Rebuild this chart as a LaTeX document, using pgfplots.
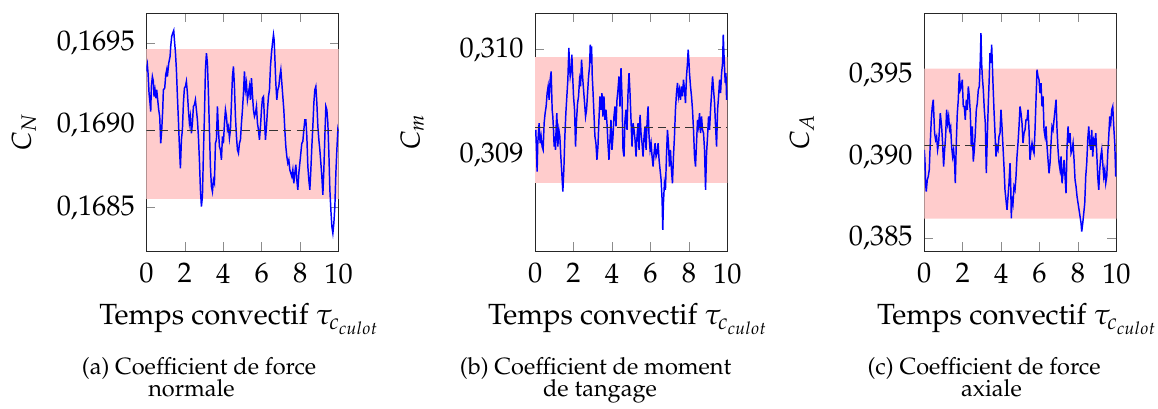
\documentclass[border=0pt]{standalone}
\usepackage[T1]{fontenc}
\usepackage{mathpazo}
\usepackage{pgfplots}
\usepackage{pgfplotstable}
\pgfplotsset{compat=1.18}

\pgfplotstableread{
x y
0.000 0.169327
0.052 0.169367
0.087 0.169316
0.139 0.169195
0.191 0.169134
0.226 0.169083
0.260 0.169235
0.313 0.169296
0.365 0.169266
0.399 0.169174
0.451 0.169215
0.503 0.169164
0.538 0.169215
0.590 0.169154
0.642 0.169093
0.694 0.169053
0.747 0.168890
0.799 0.168972
0.851 0.169093
0.885 0.169215
0.955 0.169225
1.007 0.169306
1.059 0.169337
1.094 0.169296
1.163 0.169377
1.233 0.169418
1.267 0.169479
1.319 0.169540
1.372 0.169560
1.424 0.169576
1.458 0.169519
1.510 0.169448
1.563 0.169337
1.615 0.169174
1.667 0.169032
1.719 0.168870
1.771 0.168738
1.823 0.168911
1.875 0.168972
1.927 0.169134
1.979 0.169225
2.031 0.169235
2.083 0.169266
2.135 0.169195
2.188 0.169093
2.240 0.169012
2.292 0.169053
2.344 0.168951
2.396 0.169012
2.448 0.169114
2.500 0.169124
2.552 0.169154
2.604 0.169093
2.656 0.169032
2.708 0.168931
2.760 0.168789
2.813 0.168607
2.865 0.168505
2.917 0.168566
2.969 0.168830
3.021 0.169053
3.073 0.169337
3.125 0.169438
3.177 0.169377
3.229 0.169195
3.281 0.168972
3.333 0.168749
3.385 0.168627
3.438 0.168596
3.490 0.168667
3.542 0.168647
3.594 0.168890
3.646 0.168911
3.698 0.169114
3.750 0.168972
3.802 0.168870
3.854 0.168850
3.906 0.168789
3.958 0.168931
4.010 0.168890
4.063 0.169012
4.115 0.169093
4.167 0.169053
4.219 0.168972
4.271 0.168992
4.323 0.168921
4.375 0.168972
4.427 0.169134
4.479 0.169296
4.531 0.169357
4.583 0.169235
4.635 0.169053
4.688 0.168931
4.740 0.168850
4.792 0.168830
4.844 0.168890
4.896 0.168911
4.948 0.169012
5.000 0.169093
5.052 0.169195
5.104 0.169327
5.156 0.169215
5.208 0.169256
5.260 0.169154
5.313 0.169195
5.365 0.169235
5.417 0.169154
5.469 0.169286
5.521 0.169185
5.573 0.169093
5.625 0.169053
5.677 0.169073
5.729 0.169114
5.781 0.169012
5.833 0.168972
5.885 0.168911
5.938 0.168992
5.990 0.169093
6.042 0.169164
6.094 0.169174
6.146 0.169032
6.198 0.168911
6.250 0.168992
6.302 0.169093
6.354 0.169174
6.406 0.169215
6.458 0.169357
6.510 0.169438
6.563 0.169499
6.615 0.169550
6.649 0.169519
6.684 0.169418
6.736 0.169256
6.788 0.169154
6.840 0.169215
6.892 0.169235
6.944 0.169296
6.997 0.169337
7.049 0.169256
7.101 0.169174
7.153 0.169093
7.205 0.168972
7.257 0.168870
7.309 0.168809
7.361 0.168769
7.413 0.168789
7.465 0.168728
7.517 0.168708
7.569 0.168688
7.622 0.168728
7.674 0.168647
7.726 0.168708
7.778 0.168759
7.830 0.168667
7.882 0.168607
7.934 0.168708
7.986 0.168769
8.038 0.168830
8.090 0.168890
8.142 0.168901
8.194 0.168972
8.247 0.169032
8.299 0.169032
8.351 0.168931
8.403 0.168749
8.455 0.168667
8.507 0.168607
8.559 0.168728
8.611 0.168870
8.663 0.168992
8.715 0.169134
8.767 0.169215
8.819 0.169235
8.872 0.169134
8.924 0.168992
8.976 0.168911
9.028 0.168850
9.080 0.168769
9.132 0.168688
9.184 0.168576
9.236 0.168728
9.288 0.168931
9.340 0.169114
9.392 0.169093
9.444 0.169012
9.497 0.168830
9.549 0.168607
9.601 0.168485
9.653 0.168383
9.705 0.168343
9.757 0.168404
9.809 0.168505
9.861 0.168708
9.913 0.168850
9.965 0.168972
10.000 0.168951
}\dataN

\pgfplotstableread{
x y
0.000 0.309175
0.035 0.309238
0.070 0.309048
0.104 0.308841
0.139 0.309111
0.174 0.309206
0.209 0.309302
0.261 0.309111
0.313 0.309175
0.365 0.309079
0.417 0.309048
0.470 0.309302
0.522 0.309397
0.574 0.309460
0.626 0.309587
0.678 0.309651
0.730 0.309524
0.783 0.309714
0.835 0.309794
0.887 0.309429
0.922 0.309365
0.957 0.309238
0.991 0.309079
1.026 0.309175
1.061 0.309048
1.096 0.309270
1.130 0.309397
1.183 0.309079
1.235 0.309238
1.287 0.309175
1.339 0.308984
1.391 0.308825
1.443 0.308651
1.496 0.308857
1.548 0.309175
1.600 0.309397
1.652 0.309556
1.704 0.309714
1.757 0.310016
1.791 0.309841
1.826 0.309746
1.878 0.309810
1.913 0.309952
1.948 0.309778
2.000 0.309556
2.052 0.309429
2.104 0.309079
2.157 0.309333
2.209 0.309492
2.261 0.309556
2.313 0.309714
2.365 0.309651
2.417 0.309905
2.470 0.309746
2.522 0.309619
2.574 0.309492
2.626 0.309365
2.678 0.309429
2.730 0.309587
2.783 0.309746
2.835 0.309841
2.870 0.310048
2.904 0.309873
2.939 0.310032
2.974 0.309746
3.009 0.309619
3.061 0.309397
3.113 0.309175
3.165 0.309111
3.217 0.308952
3.270 0.309079
3.322 0.309333
3.374 0.309556
3.426 0.309429
3.478 0.309587
3.530 0.309365
3.583 0.309556
3.635 0.309333
3.687 0.309429
3.739 0.309302
3.791 0.309111
3.843 0.308952
3.896 0.309143
3.948 0.309333
4.000 0.309048
4.052 0.309175
4.104 0.309365
4.157 0.309460
4.209 0.309270
4.261 0.309524
4.313 0.309619
4.365 0.309746
4.417 0.309460
4.470 0.309825
4.522 0.309556
4.574 0.309048
4.626 0.308984
4.678 0.309333
4.730 0.309429
4.783 0.309238
4.835 0.309587
4.887 0.309778
4.939 0.309587
4.991 0.309333
5.043 0.309079
5.096 0.309302
5.148 0.309238
5.200 0.309143
5.252 0.308984
5.304 0.309175
5.357 0.309302
5.409 0.309048
5.461 0.309381
5.513 0.309206
5.565 0.309111
5.617 0.308984
5.670 0.309175
5.722 0.309270
5.774 0.309048
5.826 0.309302
5.878 0.309460
5.930 0.309175
5.983 0.309048
6.035 0.309111
6.087 0.308984
6.139 0.308889
6.191 0.309016
6.243 0.309111
6.296 0.308984
6.348 0.309016
6.400 0.309111
6.452 0.308952
6.504 0.308857
6.557 0.308762
6.609 0.308571
6.643 0.308286
6.678 0.308540
6.730 0.308730
6.783 0.308667
6.835 0.308984
6.887 0.309238
6.939 0.309111
6.991 0.308889
7.043 0.309048
7.096 0.308857
7.148 0.308730
7.200 0.308984
7.252 0.309175
7.304 0.309429
7.357 0.309587
7.409 0.309683
7.461 0.309556
7.513 0.309619
7.565 0.309524
7.617 0.309651
7.670 0.309556
7.722 0.309714
7.774 0.309619
7.826 0.309492
7.878 0.309746
7.930 0.309873
7.965 0.310000
8.000 0.309905
8.035 0.309778
8.087 0.309651
8.139 0.309556
8.191 0.309429
8.243 0.309238
8.296 0.308984
8.348 0.308889
8.400 0.309111
8.452 0.309333
8.504 0.309270
8.557 0.309397
8.609 0.309206
8.661 0.309365
8.713 0.309238
8.765 0.309206
8.817 0.309048
8.870 0.308667
8.922 0.309016
8.974 0.309175
9.026 0.309365
9.078 0.309238
9.130 0.309429
9.183 0.309587
9.235 0.309746
9.287 0.309619
9.339 0.309492
9.391 0.309270
9.443 0.309079
9.496 0.309429
9.548 0.309556
9.600 0.309714
9.652 0.309587
9.704 0.309778
9.757 0.309873
9.791 0.310143
9.826 0.309968
9.861 0.309810
9.896 0.309683
9.930 0.309778
9.965 0.309524
10.000 0.309619
}\dataM

\pgfplotstableread{
x y
0.000 0.390410
0.035 0.389795
0.069 0.388361
0.104 0.387848
0.156 0.388566
0.208 0.388770
0.260 0.389180
0.313 0.390820
0.365 0.392254
0.417 0.393074
0.469 0.393484
0.503 0.392459
0.538 0.391434
0.590 0.391025
0.642 0.391230
0.694 0.390410
0.747 0.390820
0.799 0.391844
0.833 0.392664
0.868 0.392254
0.903 0.391844
0.955 0.390820
1.007 0.389385
1.059 0.390410
1.111 0.391230
1.163 0.392869
1.215 0.392049
1.267 0.392459
1.319 0.391639
1.372 0.391844
1.424 0.390615
1.476 0.390000
1.528 0.390410
1.580 0.389590
1.615 0.388361
1.667 0.390820
1.719 0.392664
1.771 0.393484
1.823 0.395123
1.875 0.394098
1.927 0.394303
1.979 0.394713
2.031 0.393074
2.083 0.393074
2.135 0.392254
2.188 0.393484
2.240 0.392869
2.292 0.394303
2.344 0.393689
2.396 0.392664
2.448 0.390615
2.500 0.391844
2.552 0.389693
2.604 0.390410
2.656 0.391434
2.708 0.392869
2.760 0.393279
2.813 0.394098
2.865 0.394303
2.917 0.395943
2.951 0.397582
2.986 0.395738
3.021 0.394918
3.073 0.394098
3.125 0.392869
3.177 0.392049
3.229 0.388975
3.281 0.391230
3.333 0.393279
3.385 0.394918
3.420 0.396353
3.472 0.395738
3.507 0.396865
3.542 0.395738
3.576 0.394508
3.628 0.392869
3.681 0.391434
3.733 0.390000
3.785 0.390615
3.837 0.390410
3.889 0.391230
3.941 0.391434
3.993 0.392869
4.045 0.391844
4.097 0.390615
4.149 0.389385
4.201 0.387951
4.253 0.387336
4.306 0.386721
4.358 0.387541
4.410 0.388361
4.462 0.389590
4.497 0.388361
4.531 0.386209
4.566 0.387541
4.618 0.387131
4.670 0.388156
4.722 0.387951
4.774 0.388770
4.826 0.390000
4.878 0.390820
4.931 0.391844
4.983 0.393074
5.035 0.392664
5.087 0.392049
5.139 0.390820
5.191 0.391434
5.243 0.391639
5.295 0.392254
5.347 0.392254
5.399 0.392869
5.451 0.391639
5.503 0.389795
5.556 0.390410
5.608 0.390820
5.660 0.390410
5.712 0.390205
5.764 0.391639
5.816 0.393484
5.868 0.395328
5.920 0.394918
5.972 0.394713
6.024 0.393893
6.076 0.394508
6.128 0.393074
6.181 0.393689
6.233 0.391639
6.285 0.391230
6.337 0.391844
6.389 0.390615
6.441 0.389795
6.493 0.388975
6.545 0.389590
6.597 0.390820
6.649 0.391844
6.701 0.391639
6.753 0.392254
6.806 0.392869
6.858 0.393484
6.910 0.391639
6.962 0.390410
7.014 0.389590
7.066 0.389180
7.118 0.390000
7.170 0.388361
7.222 0.388975
7.274 0.389795
7.326 0.388770
7.378 0.387746
7.431 0.390615
7.483 0.391844
7.535 0.390820
7.587 0.391434
7.639 0.390205
7.691 0.390410
7.743 0.390820
7.795 0.389795
7.847 0.388566
7.899 0.388156
7.951 0.387541
8.003 0.387131
8.056 0.386721
8.108 0.386311
8.160 0.385902
8.194 0.385389
8.247 0.385902
8.299 0.386516
8.351 0.387131
8.403 0.388770
8.455 0.389590
8.507 0.391025
8.559 0.391844
8.611 0.390820
8.663 0.390410
8.715 0.391639
8.767 0.390000
8.819 0.391025
8.872 0.390820
8.924 0.391434
8.976 0.390205
9.028 0.388770
9.080 0.387951
9.132 0.389180
9.184 0.390000
9.236 0.390410
9.288 0.389590
9.340 0.388770
9.392 0.389180
9.444 0.388361
9.497 0.388770
9.549 0.390205
9.601 0.391230
9.653 0.392459
9.705 0.392049
9.757 0.392869
9.809 0.393074
9.861 0.391844
9.913 0.390820
9.965 0.388770
10.000 0.390205
}\dataA

\pgfplotsset{
  panel/.style={
    scale only axis, width=91.5pt, height=113.3pt,
    anchor=south west,
    xmin=0, xmax=10, xtick={0,2,...,10},
    tick label style={font=\fontsize{13.5}{15}\selectfont},
    xticklabel style={yshift=-2.5pt},
    yticklabel style={xshift=-2pt},
    xlabel={Temps convectif $\tau_{c_{culot}}$},
    every axis x label/.style={at={([xshift=-1.5pt,yshift=-35.2pt]axis description cs:0.5,0)}, anchor=base, font=\fontsize{13.9}{16}\selectfont},
    every axis y label/.style={at={([xshift=-55pt]axis description cs:0,0.5)}, rotate=90, anchor=base, font=\fontsize{13}{15}\selectfont},
    tick style={black!45},
    axis line style={black!85},
  },
  band/.style={draw=none, fill=red!20, forget plot},
  meanline/.style={black!80, dash pattern=on 4pt off 2.5pt, forget plot},
  curve/.style={blue, line width=0.7pt, mark=none},
}

\begin{document}
\begin{tikzpicture}
\useasboundingbox (0,0) rectangle (551.4pt,194.3pt);

\begin{axis}[panel, at={(69.7pt,74.8pt)},
  ymin=0.168235, ymax=0.169682,
  ytick={0.1685,0.169,0.1695},
  yticklabels={$0{,}1685$,$0{,}1690$,$0{,}1695$},
  ylabel={$C_N$}]
\addplot[band] coordinates {(0,0.168552) (10,0.168552) (10,0.169462) (0,0.169462) (0,0.168552)};
\addplot[curve] table[x=x,y=y] {\dataN};
\addplot[meanline] coordinates {(0,0.168970) (10,0.168970)};
\end{axis}

\begin{axis}[panel, at={(254.8pt,74.8pt)},
  ymin=0.308086, ymax=0.310349,
  ytick={0.309,0.310},
  yticklabels={$0{,}309$,$0{,}310$},
  ylabel={$C_m$}]
\addplot[band] coordinates {(0,0.308733) (10,0.308733) (10,0.309930) (0,0.309930) (0,0.308733)};
\addplot[curve] table[x=x,y=y] {\dataM};
\addplot[meanline] coordinates {(0,0.309263) (10,0.309263)};
\end{axis}

\begin{axis}[panel, at={(440.1pt,74.8pt)},
  ymin=0.384201, ymax=0.398811,
  ytick={0.385,0.390,0.395},
  yticklabels={$0{,}385$,$0{,}390$,$0{,}395$},
  ylabel={$C_A$}]
\addplot[band] coordinates {(0,0.386188) (10,0.386188) (10,0.395389) (0,0.395389) (0,0.386188)};
\addplot[curve] table[x=x,y=y] {\dataA};
\addplot[meanline] coordinates {(0,0.390697) (10,0.390697)};
\end{axis}

\begin{scope}[every node/.style={font=\fontsize{11.2}{12}\selectfont, inner sep=0pt, anchor=base}]
\node at (94.8pt,16.2pt) {(a) Coefficient de force};
\node at (91.2pt,5.3pt) {normale};
\node at (283.6pt,16.2pt) {(b) Coefficient de moment};
\node at (285.7pt,5.3pt) {de tangage};
\node at (468.6pt,16.2pt) {(c) Coefficient de force};
\node at (472.1pt,5.3pt) {axiale};
\end{scope}
\end{tikzpicture}
\end{document}
